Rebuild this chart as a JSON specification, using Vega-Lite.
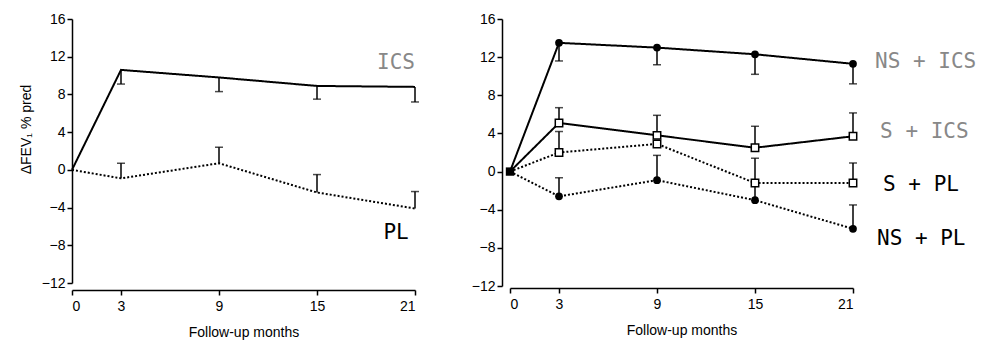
{
  "$schema": "https://vega.github.io/schema/vega-lite/v6.json",
  "background": "white",
  "padding": {"left": 19, "top": 12, "right": 5, "bottom": 5},
  "spacing": 52,
  "config": {
    "view": {"stroke": null},
    "axis": {
      "grid": false,
      "domainColor": "black",
      "domainWidth": 1.5,
      "tickColor": "black",
      "tickWidth": 1.5,
      "tickSize": 5,
      "labelColor": "black",
      "labelFont": "Liberation Sans Narrow, Liberation Sans",
      "labelFontSize": 14,
      "titleFont": "Liberation Sans Narrow, Liberation Sans",
      "titleFontSize": 14,
      "titleFontWeight": "normal",
      "titleColor": "black"
    }
  },
  "datasets": {
    "left": [
      {"series": "ICS", "arm": "ICS", "month": 0, "value": 0, "bar": null},
      {"series": "ICS", "arm": "ICS", "month": 3, "value": 10.6, "bar": 9.1},
      {"series": "ICS", "arm": "ICS", "month": 9, "value": 9.8, "bar": 8.3},
      {"series": "ICS", "arm": "ICS", "month": 15, "value": 8.9, "bar": 7.5},
      {"series": "ICS", "arm": "ICS", "month": 21, "value": 8.8, "bar": 7.2},
      {"series": "PL", "arm": "PL", "month": 0, "value": 0, "bar": null},
      {"series": "PL", "arm": "PL", "month": 3, "value": -0.9, "bar": 0.7},
      {"series": "PL", "arm": "PL", "month": 9, "value": 0.7, "bar": 2.4},
      {"series": "PL", "arm": "PL", "month": 15, "value": -2.4, "bar": -0.5},
      {"series": "PL", "arm": "PL", "month": 21, "value": -4.1, "bar": -2.3}
    ],
    "leftLabels": [
      {"label": "ICS", "arm": "ICS", "x": 19.84, "y": 11.3},
      {"label": "PL", "arm": "PL", "x": 19.84, "y": -6.7}
    ],
    "right": [
      {"series": "NS + ICS", "smoke": "NS", "arm": "ICS", "month": 0, "value": 0, "bar": null},
      {"series": "NS + ICS", "smoke": "NS", "arm": "ICS", "month": 3, "value": 13.5, "bar": 11.6},
      {"series": "NS + ICS", "smoke": "NS", "arm": "ICS", "month": 9, "value": 13.0, "bar": 11.2},
      {"series": "NS + ICS", "smoke": "NS", "arm": "ICS", "month": 15, "value": 12.3, "bar": 10.2},
      {"series": "NS + ICS", "smoke": "NS", "arm": "ICS", "month": 21, "value": 11.3, "bar": 9.2},
      {"series": "S + ICS", "smoke": "S", "arm": "ICS", "month": 0, "value": 0, "bar": null},
      {"series": "S + ICS", "smoke": "S", "arm": "ICS", "month": 3, "value": 5.1, "bar": 6.7},
      {"series": "S + ICS", "smoke": "S", "arm": "ICS", "month": 9, "value": 3.8, "bar": 5.9},
      {"series": "S + ICS", "smoke": "S", "arm": "ICS", "month": 15, "value": 2.5, "bar": 4.75},
      {"series": "S + ICS", "smoke": "S", "arm": "ICS", "month": 21, "value": 3.7, "bar": 6.15},
      {"series": "S + PL", "smoke": "S", "arm": "PL", "month": 0, "value": 0, "bar": null},
      {"series": "S + PL", "smoke": "S", "arm": "PL", "month": 3, "value": 2.0, "bar": 4.2},
      {"series": "S + PL", "smoke": "S", "arm": "PL", "month": 9, "value": 2.9, "bar": null},
      {"series": "S + PL", "smoke": "S", "arm": "PL", "month": 15, "value": -1.2, "bar": 1.4},
      {"series": "S + PL", "smoke": "S", "arm": "PL", "month": 21, "value": -1.2, "bar": 0.9},
      {"series": "NS + PL", "smoke": "NS", "arm": "PL", "month": 0, "value": 0, "bar": null},
      {"series": "NS + PL", "smoke": "NS", "arm": "PL", "month": 3, "value": -2.6, "bar": -0.65},
      {"series": "NS + PL", "smoke": "NS", "arm": "PL", "month": 9, "value": -0.9, "bar": 1.7},
      {"series": "NS + PL", "smoke": "NS", "arm": "PL", "month": 15, "value": -3.0, "bar": -1.2},
      {"series": "NS + PL", "smoke": "NS", "arm": "PL", "month": 21, "value": -6.0, "bar": -3.5}
    ],
    "rightLabels": [
      {"label": "NS + ICS", "arm": "ICS", "x": 22.35, "y": 11.5},
      {"label": "S + ICS", "arm": "ICS", "x": 22.66, "y": 4.1},
      {"label": "S + PL", "arm": "PL", "x": 22.84, "y": -1.4},
      {"label": "NS + PL", "arm": "PL", "x": 22.47, "y": -7.1}
    ]
  },
  "hconcat": [
    {
      "width": 343,
      "height": 264,
      "data": {"name": "left"},
      "encoding": {
        "x": {"field": "month", "type": "quantitative",
          "scale": {"domain": [0, 21], "nice": false, "zero": false},
          "axis": {"values": [0, 3, 9, 15, 21], "title": "Follow-up months", "offset": 7, "titlePadding": 12, "labelPadding": 4}},
        "y": {"field": "value", "type": "quantitative",
          "scale": {"domain": [-12, 16], "nice": false},
          "axis": {"values": [-12, -8, -4, 0, 4, 8, 12, 16], "title": "ΔFEV₁ % pred", "titlePadding": 8, "titleY": 110}}
      },
      "layer": [
        {
          "mark": {"type": "line", "color": "black", "strokeWidth": 2},
          "encoding": {
            "detail": {"field": "series"},
            "strokeDash": {"field": "arm", "type": "nominal", "scale": {"domain": ["ICS", "PL"], "range": [[1, 0], [2, 2]]}, "legend": null}
          }
        },
        {
          "transform": [{"filter": "datum.bar != null"}],
          "mark": {"type": "rule", "color": "black", "strokeWidth": 1.5},
          "encoding": {"y2": {"field": "bar"}}
        },
        {
          "transform": [{"filter": "datum.bar != null"}],
          "mark": {"type": "tick", "orient": "horizontal", "color": "black", "size": 8, "thickness": 1.5},
          "encoding": {"y": {"field": "bar", "type": "quantitative"}}
        },
        {
          "data": {"name": "leftLabels"},
          "mark": {"type": "text", "font": "DejaVu Sans Mono", "fontSize": 21, "align": "center", "baseline": "middle"},
          "encoding": {
            "x": {"field": "x", "type": "quantitative"},
            "y": {"field": "y", "type": "quantitative"},
            "text": {"field": "label"},
            "color": {"field": "arm", "type": "nominal", "scale": {"domain": ["ICS", "PL"], "range": ["#888888", "#000000"]}, "legend": null}
          }
        }
      ]
    },
    {
      "width": 343,
      "height": 267,
      "data": {"name": "right"},
      "encoding": {
        "x": {"field": "month", "type": "quantitative",
          "scale": {"domain": [0, 21], "nice": false, "zero": false},
          "axis": {"values": [0, 3, 9, 15, 21], "title": "Follow-up months", "offset": 2, "titlePadding": 12, "labelPadding": 4}},
        "y": {"field": "value", "type": "quantitative",
          "scale": {"domain": [-12, 16], "nice": false},
          "axis": {"values": [-12, -8, -4, 0, 4, 8, 12, 16], "title": null, "offset": 8}}
      },
      "layer": [
        {
          "mark": {"type": "line", "color": "black", "strokeWidth": 2},
          "encoding": {
            "detail": {"field": "series"},
            "strokeDash": {"field": "arm", "type": "nominal", "scale": {"domain": ["ICS", "PL"], "range": [[1, 0], [2, 2]]}, "legend": null}
          }
        },
        {
          "transform": [{"filter": "datum.bar != null"}],
          "mark": {"type": "rule", "color": "black", "strokeWidth": 1.5},
          "encoding": {"y2": {"field": "bar"}}
        },
        {
          "transform": [{"filter": "datum.bar != null"}],
          "mark": {"type": "tick", "orient": "horizontal", "color": "black", "size": 8, "thickness": 1.5},
          "encoding": {"y": {"field": "bar", "type": "quantitative"}}
        },
        {
          "transform": [{"filter": "datum.month > 0 && datum.smoke == 'NS'"}],
          "mark": {"type": "point", "shape": "circle", "filled": true, "color": "black", "size": 60, "opacity": 1}
        },
        {
          "transform": [{"filter": "datum.month > 0 && datum.smoke == 'S'"}],
          "mark": {"type": "point", "shape": "square", "filled": true, "fill": "white", "stroke": "black", "strokeWidth": 1.5, "size": 55, "opacity": 1}
        },
        {
          "transform": [{"filter": "datum.month == 0 && datum.series == 'NS + ICS'"}],
          "mark": {"type": "point", "shape": "square", "filled": true, "color": "black", "size": 70, "opacity": 1}
        },
        {
          "data": {"name": "rightLabels"},
          "mark": {"type": "text", "font": "DejaVu Sans Mono", "fontSize": 21, "align": "left", "baseline": "middle"},
          "encoding": {
            "x": {"field": "x", "type": "quantitative"},
            "y": {"field": "y", "type": "quantitative"},
            "text": {"field": "label"},
            "color": {"field": "arm", "type": "nominal", "scale": {"domain": ["ICS", "PL"], "range": ["#888888", "#000000"]}, "legend": null}
          }
        }
      ]
    }
  ]
}
